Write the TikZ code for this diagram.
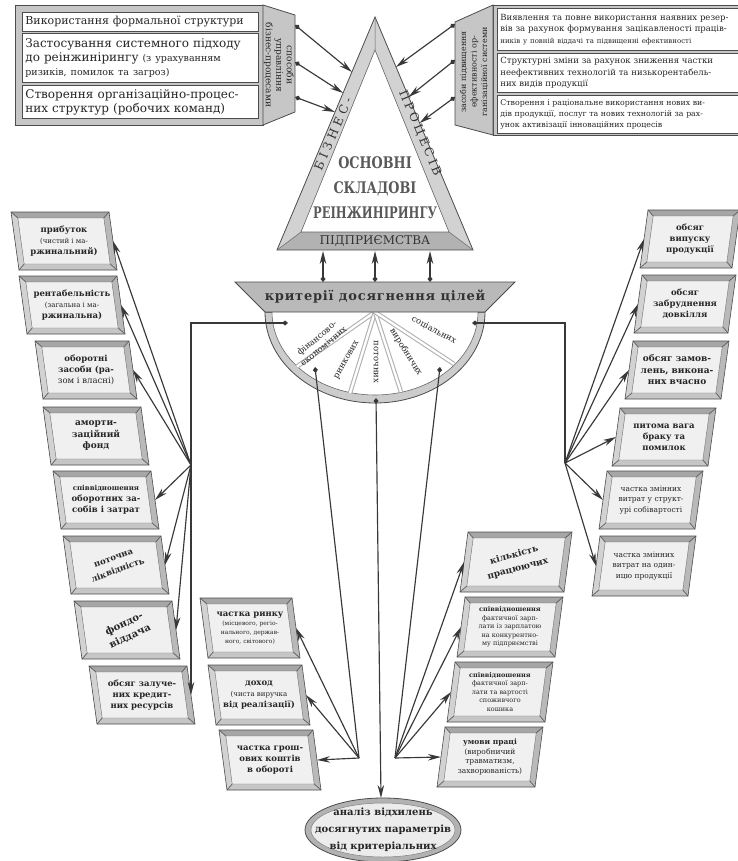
\documentclass[tikz,border=0pt]{standalone}
\usepackage{fontspec}
\setmainfont{DejaVu Serif}
\usepackage{graphicx}
\usetikzlibrary{arrows.meta}
\newcommand\lightln{\fontsize{7}{10.5}\selectfont\mdseries}
\newcommand\bvbox[8]{%
  \pgfmathsetmacro\bxa{#2-(#4)/2-(#6)/2}%
  \pgfmathsetmacro\bxb{#2+(#4)/2-(#6)/2}%
  \pgfmathsetmacro\bxc{#2+(#4)/2+(#6)/2}%
  \pgfmathsetmacro\bxd{#2-(#4)/2+(#6)/2}%
  \pgfmathsetmacro\byt{#3-(#5)/2}%
  \pgfmathsetmacro\byb{#3+(#5)/2}%
  \pgfmathsetmacro\bk{(#6)/(#5)*6}%
  \pgfmathsetmacro\ixa{\bxa+\bk+6}%
  \pgfmathsetmacro\ixb{\bxb+\bk-6}%
  \pgfmathsetmacro\ixc{\bxc-\bk-6}%
  \pgfmathsetmacro\ixd{\bxd-\bk+6}%
  \pgfmathsetmacro\iyt{\byt+6}%
  \pgfmathsetmacro\iyb{\byb-6}%
  \fill[bvtop] (\bxa,\byt) -- (\bxb,\byt) -- (\ixb,\iyt) -- (\ixa,\iyt) -- cycle;
  \fill[bvright] (\bxb,\byt) -- (\bxc,\byb) -- (\ixc,\iyb) -- (\ixb,\iyt) -- cycle;
  \fill[bvbot] (\bxc,\byb) -- (\bxd,\byb) -- (\ixd,\iyb) -- (\ixc,\iyb) -- cycle;
  \fill[bvleft] (\bxd,\byb) -- (\bxa,\byt) -- (\ixa,\iyt) -- (\ixd,\iyb) -- cycle;
  \path[bvin] (\ixa,\iyt) -- (\ixb,\iyt) -- (\ixc,\iyb) -- (\ixd,\iyb) -- cycle;
  \draw[bvline] (\bxa,\byt) -- (\ixa,\iyt) (\bxb,\byt) -- (\ixb,\iyt) (\bxc,\byb) -- (\ixc,\iyb) (\bxd,\byb) -- (\ixd,\iyb);
  \draw[bvline] (\bxa,\byt) -- (\bxb,\byt) -- (\bxc,\byb) -- (\bxd,\byb) -- cycle;
  \node[boxtext,#7] (#1) at (#2,#3) {#8};
  \coordinate (#1-e) at ({(\bxb+\bxc)/2},#3);
  \coordinate (#1-w) at ({(\bxa+\bxd)/2},#3);
}
\tikzset{
  conn/.style={draw=black!78, line width=1.15pt},
  arr/.style={conn, -{Stealth[length=13pt,width=6.5pt]}},
  darr/.style={conn, {Diamond[length=6pt,width=5pt]}-{Stealth[length=13pt,width=6.5pt]}},
  dline/.style={conn, -{Diamond[length=6pt,width=5pt]}},
  panel/.style={fill=gray!45, draw=black!70, line width=0.8pt},
  bvtop/.style={fill=gray!70},
  bvright/.style={fill=gray!55},
  bvbot/.style={fill=gray!45},
  bvleft/.style={fill=gray!35},
  bvin/.style={fill=gray!12, draw=black!60, line width=0.4pt},
  bvline/.style={draw=black!70, line width=0.6pt},
  boxtext/.style={align=center, inner sep=0pt, text=black!85, font=\fontsize{8.5}{11}\selectfont\bfseries},
  tlbox/.style={draw=gray!60!black, fill=white, line width=0.8pt, align=left, inner xsep=3pt, inner ysep=1pt, anchor=north west, text width=230pt, font=\fontsize{12}{14}\selectfont, text=black!85},
  trbox/.style={draw=gray!60!black, fill=white, line width=0.8pt, align=left, inner xsep=3pt, inner ysep=1pt, anchor=north west, text width=240pt, font=\fontsize{8.5}{11.5}\selectfont, text=black!85},
  tabtext/.style={align=center, inner sep=0pt, text=black!85},
  sector/.style={inner sep=0pt, align=center, text=black!85, font=\fontsize{8.5}{10.5}\selectfont},
}
\begin{document}
\begin{tikzpicture}[x=1pt,y=-1pt]
\path[use as bounding box, fill=white] (0,0) rectangle (738,861);

% ---------- top-left block ----------
\path[panel] (15,5) rectangle (263,125);
\path[panel] (263,5) -- (295,15) -- (295,112) -- (263,125) -- cycle;
\node[tabtext, rotate=-90, font=\fontsize{9}{10.5}\selectfont] (tabL) at (279,65) {способи\\управління\\бізнес-процесами};
\node[tlbox, minimum height=19pt, font=\fontsize{11}{14}\selectfont] (tl1) at (22,12) {Використання формальної структури};
\node[tlbox, minimum height=49pt] (tl2) at (22,33) {Застосування системного підходу\\до реінжинірингу {\fontsize{9.5}{14}\selectfont(з урахуванням}\\{\fontsize{9.5}{14}\selectfont ризиків, помилок та загроз)}};
\node[tlbox, minimum height=33pt] (tl3) at (22,85) {Створення організаційно-процес-\\них структур (робочих команд)};

% ---------- top-right block ----------
\begin{scope}
\clip (0,0) rectangle (738,861);
\path[panel] (493,5) rectangle (745,135);
\path[panel] (455,22) -- (493,5) -- (493,135) -- (455,125) -- cycle;
\node[tabtext, rotate=90, font=\fontsize{8}{10.5}\selectfont] (tabR) at (474,72) {засоби підвищення\\ефективності ор-\\ганізаційної системи};
\node[trbox, minimum height=42pt] (tr1) at (497,8) {Виявлення та повне використання наявних резер-\\вів за рахунок формування зацікавленості праців-\\{\fontsize{7}{11.5}\selectfont ників у повній віддачі та підвищенні ефективності}};
\node[trbox, minimum height=39pt] (tr2) at (497,53) {Структурні зміни за рахунок зниження частки\\неефективних технологій та низькорентабель-\\них видів продукції};
\node[trbox, minimum height=38pt, font=\fontsize{7.8}{11}\selectfont] (tr3) at (497,95) {Створення і раціональне використання нових ви-\\дів продукції, послуг та нових технологій за рах-\\унок активізації інноваційних процесів};
\end{scope}

% ---------- triangle ----------
\fill[gray!35] (375,17) -- (277,250) -- (301,232) -- (375,50) -- cycle;
\fill[gray!35] (375,17) -- (473,250) -- (449,232) -- (375,50) -- cycle;
\fill[gray!60] (277,250) -- (473,250) -- (449,232) -- (301,232) -- cycle;
\draw[black!70, line width=0.8pt] (375,17) -- (473,250) -- (277,250) -- cycle;
\draw[black!60, line width=0.6pt] (375,50) -- (449,232) -- (301,232) -- cycle;
\draw[black!60, line width=0.5pt] (375,17) -- (375,50) (277,250) -- (301,232) (473,250) -- (449,232);
\node[font=\fontsize{12}{12}\selectfont\addfontfeature{LetterSpace=35}, text=black!80, rotate=67] (biz) at (333,134) {БІЗНЕС-};
\node[font=\fontsize{12}{12}\selectfont\addfontfeature{LetterSpace=25}, text=black!80, rotate=-67] (proc) at (420,133) {ПРОЦЕСІВ};
\node[font=\fontsize{12}{12}\selectfont, text=black!80] (pidp) at (375,241) {ПІДПРИЄМСТВА};
\node[font=\fontsize{16}{16}\selectfont\bfseries, text=black!65] (c1) at (375,163) {\scalebox{0.8}[1]{ОСНОВНІ}};
\node[font=\fontsize{16}{16}\selectfont\bfseries, text=black!65] (c2) at (375,189) {\scalebox{0.8}[1]{СКЛАДОВІ}};
\node[font=\fontsize{16}{16}\selectfont\bfseries, text=black!65] (c3) at (375,213) {\scalebox{0.72}[1]{РЕІНЖИНІРИНГУ}};

% arrows from tabs to triangle
\coordinate (tla) at (295,25);
\coordinate (tlb) at (295,62);
\coordinate (tlc) at (295,97);
\coordinate (tria) at (351.9,72);
\coordinate (trib) at (343,93);
\coordinate (tric) at (335,112);
\coordinate (tra) at (455,24);
\coordinate (trb) at (455,60);
\coordinate (trc) at (455,97);
\coordinate (trid) at (396,67);
\coordinate (trie) at (408.6,97);
\coordinate (trif) at (419.6,123);
\draw[darr] (tla) -- (tria);
\draw[darr] (tlb) -- (trib);
\draw[darr] (tlc) -- (tric);
\draw[darr] (tra) -- (trid);
\draw[darr] (trb) -- (trie);
\draw[darr] (trc) -- (trif);

% ---------- semicircle ----------
\begin{scope}
\clip (200,312) rectangle (560,420);
\path[fill=gray!40, draw=black!70, line width=0.8pt] (375,312) ellipse [x radius=110, y radius=91];
\path[fill=white, draw=black!60, line width=0.6pt] (375,312) ellipse [x radius=103, y radius=83];
\end{scope}
\foreach \ex/\ey in {297/366.5, 350/393, 401/392, 454/364}{
  \draw[gray!60, line width=4.5pt] (375,312) -- (\ex,\ey);
  \draw[white, line width=2.3pt] (375,312) -- (\ex,\ey);
}
\path[fill=gray!55, draw=black!70, line width=0.8pt] (235,282) -- (515,282) -- (485,312) -- (265,312) -- cycle;
\draw[black!60, line width=0.5pt] (265,312) -- (272,312) (485,312) -- (478,312);
\node[font=\fontsize{13}{13}\selectfont\bfseries\addfontfeature{LetterSpace=6}, text=black!80] (krit) at (375,297) {критерії досягнення цілей};
\node[sector, rotate=40] (sfin) at (320,342) {фінансово-\\економічних};
\node[sector, rotate=60] (srin) at (347,360) {ринкових};
\node[sector, rotate=-90] (spot) at (376,362) {поточних};
\node[sector, rotate=-58] (svyr) at (406,352) {виробничих};
\node[sector, rotate=-28] (ssoc) at (434,330) {соціальних};

% triangle - semicircle arrows
\coordinate (sa) at (323,282);
\coordinate (sb) at (375,282);
\coordinate (sc) at (430,282);
\coordinate (ba) at (323,251);
\coordinate (bb) at (375,251);
\coordinate (bc) at (430,251);
\draw[darr] (sa) -- (ba);
\draw[darr] (sb) -- (bb);
\draw[darr] (sc) -- (bc);

% ---------- left column ----------
\bvbox{L1}{64}{241}{98}{58}{8}{}{прибуток\\\lightln(чистий і ма-\\ржинальний)}
\bvbox{L2}{72}{305}{98}{58}{8}{}{рентабельність\\\lightln(загальна і ма-\\ржинальна)}
\bvbox{L3}{86}{370}{94}{58}{8}{}{оборотні\\засоби (ра-\\{\mdseries зом і власні)}}
\bvbox{L4}{96}{436}{98}{58}{8}{font=\fontsize{9}{11.5}\selectfont\bfseries}{аморти-\\заційний\\фонд}
\bvbox{L5}{106}{500}{98}{58}{8}{}{{\fontsize{7}{11}\selectfont співвідношення}\\оборотних за-\\собів і затрат}
\bvbox{L6}{116}{565}{98}{58}{8}{rotate=20, font=\fontsize{8.5}{13}\selectfont\bfseries}{поточна\\ліквідність}
\bvbox{L7}{127}{630}{98}{58}{8}{rotate=25, font=\fontsize{10}{14}\selectfont\bfseries}{фондо-\\віддача}
\bvbox{L8}{142}{695}{98}{58}{8}{}{обсяг залуче-\\них кредит-\\них ресурсів}

% ---------- right column ----------
\bvbox{R1}{690}{239}{92}{58}{-8}{}{обсяг\\випуску\\продукції}
\bvbox{R2}{685}{304}{94}{58}{-8}{}{обсяг\\забруднення\\довкілля}
\bvbox{R3}{677}{370}{96}{58}{-8}{font=\fontsize{9}{11.5}\selectfont\bfseries}{обсяг замов-\\лень, викона-\\них вчасно}
\bvbox{R4}{664}{437}{96}{58}{-8}{}{питома вага\\браку та\\помилок}
\bvbox{R5}{651}{500}{96}{58}{-8}{font=\fontsize{7.5}{10.5}\selectfont}{частка змінних\\витрат у структ-\\урі собівартості}
\bvbox{R6}{644}{566}{96}{60}{-8}{font=\fontsize{7.5}{10.5}\selectfont}{частка змінних\\витрат на один-\\ицю продукції}

% ---------- bottom-left boxes ----------
\bvbox{B1}{250}{628}{92}{60}{8}{font=\fontsize{8.5}{9}\selectfont\bfseries}{частка ринку\\{\fontsize{6}{9}\selectfont\mdseries (місцевого, регіо-}\\{\fontsize{6}{9}\selectfont\mdseries нального, держав-}\\{\fontsize{6}{9}\selectfont\mdseries ного, світового)}}
\bvbox{B2}{259}{695}{94}{60}{8}{}{доход\\\lightln(чиста виручка\\від реалізації)}
\bvbox{B3}{270}{760}{94}{60}{8}{}{частка грош-\\ових коштів\\в обороті}

% ---------- bottom-right boxes ----------
\bvbox{C1}{516}{562}{104}{60}{-8}{rotate=15, font=\fontsize{9}{14}\selectfont\bfseries}{кількість\\працюючих}
\bvbox{C2}{510}{627}{98}{60}{-8}{font=\fontsize{6.5}{8.5}\selectfont\bfseries}{співвідношення\\{\mdseries фактичної зарп-}\\{\mdseries лати із зарплатою}\\{\mdseries на конкурентно-}\\{\mdseries му підприємстві}}
\bvbox{C3}{500}{692}{98}{60}{-8}{font=\fontsize{6.5}{8.5}\selectfont\bfseries}{співвідношення\\{\mdseries фактичної зарп-}\\{\mdseries лати та вартості}\\{\mdseries споживчого}\\{\mdseries кошика}}
\bvbox{C4}{490}{757}{98}{60}{-8}{font=\fontsize{7.5}{9.5}\selectfont\bfseries}{умови праці\\{\mdseries(виробничий}\\{\mdseries травматизм,}\\{\mdseries захворюваність)}}

% ---------- ellipse ----------
\path[fill=gray!60, draw=black!70, line width=0.8pt] (383,830) ellipse [x radius=78, y radius=32];
\path[fill=gray!15, draw=black!50, line width=0.5pt] (383,830) ellipse [x radius=72, y radius=27];
\node[align=center, inner sep=0pt, font=\fontsize{10}{17}\selectfont\bfseries, text=black!85] (ell) at (383,830) {аналіз відхилень\\досягнутих параметрів\\від критеріальних};
\coordinate (ellTop) at (381,798);

% ---------- hubs and connectors ----------
\coordinate (LH) at (191,465);
\coordinate (RH) at (565,463);
\coordinate (BLH) at (359,758);
\coordinate (BRH) at (395,758);
\coordinate (sL) at (288,323);
\coordinate (sR) at (472,323);
\coordinate (sDL) at (315,367);
\coordinate (sDC) at (376,398);
\coordinate (sDR) at (440,367);

\draw[dline] (LH) |- (sL);
\draw[dline] (RH) |- (sR);
\draw[dline] (BLH) -- (sDL);
\draw[dline] (BRH) -- (sDR);
\draw[darr] (sDC) -- (ellTop);

\foreach \b in {L1,L2,L3,L5,L6,L7,L8}{\draw[arr] (LH) -- (\b-e);}
\foreach \b in {R1,R2,R3,R4,R5,R6}{\draw[arr] (RH) -- (\b-w);}
\foreach \b in {B1,B2,B3}{\draw[arr] (BLH) -- (\b-e);}
\foreach \b in {C1,C2,C3,C4}{\draw[arr] (BRH) -- (\b-w);}
\end{tikzpicture}
\end{document}
